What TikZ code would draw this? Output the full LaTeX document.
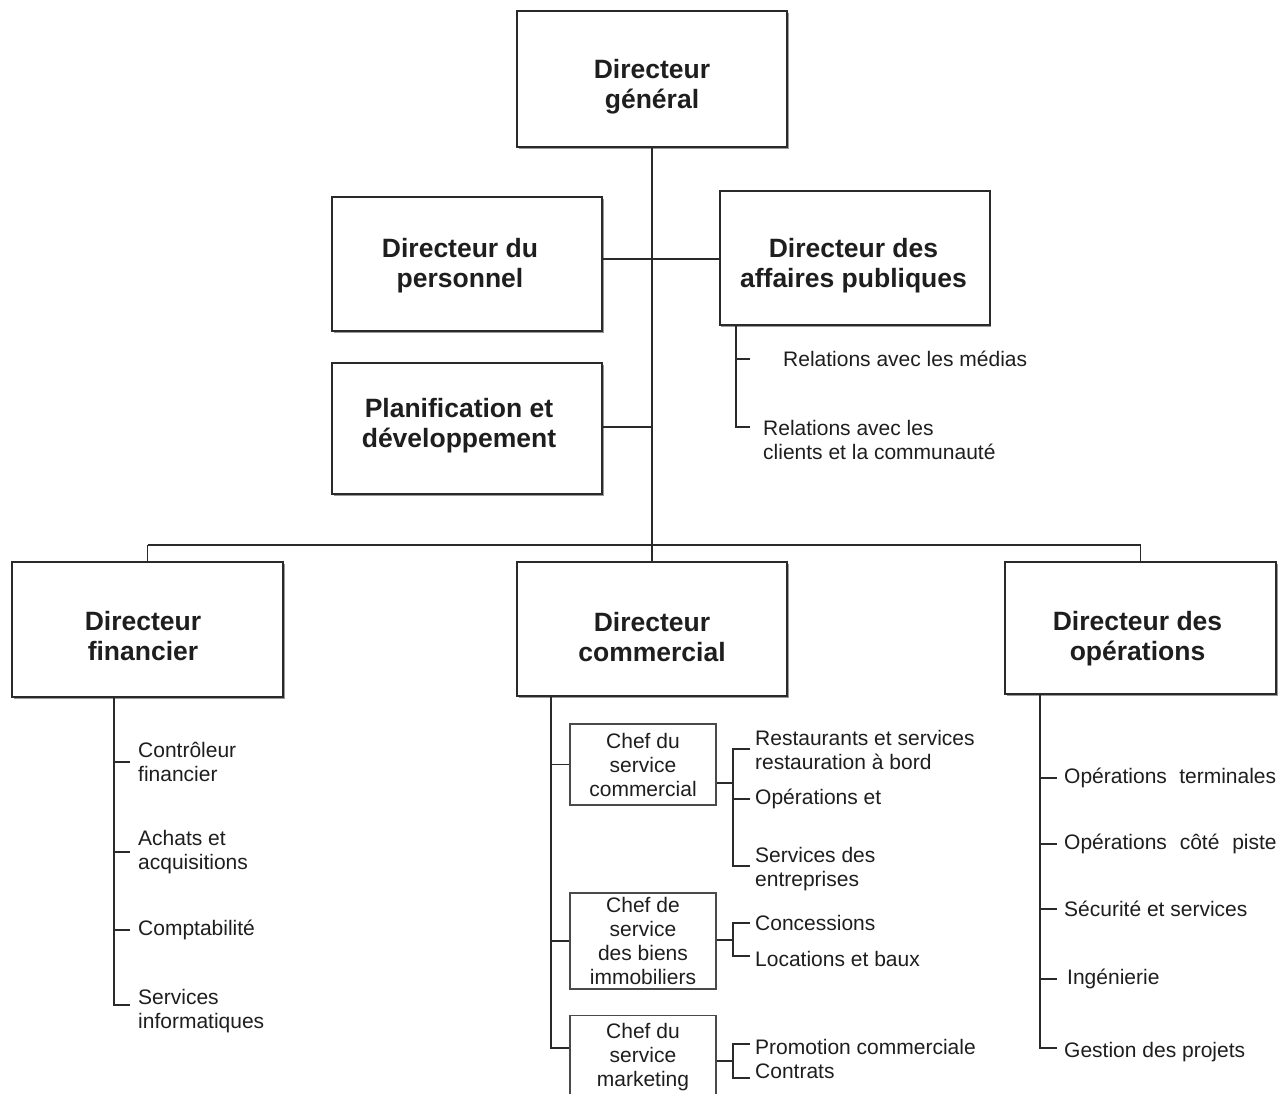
\documentclass[tikz,border=0pt]{standalone}
\usepackage{fontspec}
\setmainfont{Liberation Sans}
\usetikzlibrary{shadows}
\definecolor{ink}{HTML}{1E1E1E}
\definecolor{linec}{HTML}{2A2A2A}
\tikzset{
  bigbox/.style={draw=linec, line width=2pt, fill=white, minimum width=270pt, minimum height=134pt,
    inner sep=0pt,
    drop shadow={shadow xshift=1.6pt, shadow yshift=-1.6pt, fill=gray, opacity=0.8}},
  bigtext/.style={align=center, font=\fontsize{26.5}{30}\selectfont\bfseries, text=ink, inner sep=0pt},
  chefbox/.style={draw=linec!85, line width=1.3pt, minimum width=146pt, align=center,
    font=\fontsize{21}{24}\selectfont, text=ink, inner sep=0pt},
  cheftext/.style={align=center, font=\fontsize{21}{24}\selectfont, text=ink, inner sep=0pt},
  lbl/.style={anchor=west, align=left, inner sep=0pt, font=\fontsize{21}{24}\selectfont, text=ink},
  conn/.style={draw=linec, line width=1.3pt},
}
\begin{document}
\begin{tikzpicture}[x=1pt,y=-1pt]
\useasboundingbox (0,0) rectangle (1279,1093);
\clip (0,0) rectangle (1279,1093);
\fill[white] (0,0) rectangle (1279,1093);

% main boxes
\node[bigbox, minimum height=136pt] (dg) at (652,79) {};
\node[bigtext] (dgt) at ([shift={(0,8)}]dg.center) {Directeur\\général};
\node[bigbox] (dp) at (467,264) {};
\node[bigtext] (dpt) at ([shift={(-7,1.5)}]dp.center) {Directeur du\\personnel};
\node[bigbox] (dap) at (854.5,258) {};
\node[bigtext] (dapt) at ([shift={(-1,8)}]dap.center) {Directeur des\\affaires publiques};
\node[bigbox, minimum height=131pt] (pd) at (467,428.5) {};
\node[bigtext] (pdt) at ([shift={(-8,-2.5)}]pd.center) {Planification et\\développement};
\node[bigbox, minimum height=135pt, minimum width=271pt] (df) at (147.5,629.5) {};
\node[bigtext] (dft) at ([shift={(-4.5,6.5)}]df.center) {Directeur\\financier};
\node[bigbox] (dc) at (652,629) {};
\node[bigtext] (dct) at ([shift={(0,8)}]dc.center) {Directeur\\commercial};
\node[bigbox, minimum height=132pt, minimum width=271pt] (dop) at (1140.5,628) {};
\node[bigtext] (dopt) at ([shift={(-3,11)}]dop.center) {Directeur des\\opérations};

% top level connectors
\coordinate (jP) at (652,259);
\coordinate (jD) at (652,427);
\coordinate (bus) at (652,545);
\coordinate (busL) at (147.5,545);
\coordinate (busR) at (1140.5,545);
\draw[conn] (dg.south) -- (bus);
\draw[conn] (dp.east |- jP) -- (dap.west |- jP);
\draw[conn] (pd.east |- jD) -- (jD);
\draw[conn] (busL) -- (busR);
\draw[conn] (busL) -- (df.north);
\draw[conn] (bus) -- (dc.north);
\draw[conn] (busR) -- (dop.north);

% affaires publiques
\node[lbl] (rm) at (783,359) {Relations avec les médias};
\node[lbl] (rc) at (763,440) {Relations avec les\\clients et la communauté};
\coordinate (ap1) at (736,359);
\coordinate (ap2) at (736,427);
\draw[conn, shorten >=13pt] (dap.south -| ap2) -- (ap2) -- (ap2 -| rc.west);
\draw[conn, shorten >=33pt] (ap1) -- (rm.west);

% financier
\node[lbl] (fc) at (138,762) {Contrôleur\\financier};
\node[lbl] (fa) at (138,852) {Achats et\\acquisitions};
\node[lbl] (fco) at (138,930) {Comptabilité};
\node[lbl] (fs) at (138,1011) {Services\\informatiques};
\coordinate (f4) at (114,1005);
\draw[conn, shorten >=8pt] (df.south -| f4) -- (f4) -- (f4 -| fs.west);
\draw[conn, shorten >=8pt] (fc.west -| f4) -- (fc.west);
\draw[conn, shorten >=8pt] (fa.west -| f4) -- (fa.west);
\draw[conn, shorten >=8pt] (fco.west -| f4) -- (fco.west);

% commercial
\node[chefbox, minimum height=81pt] (cc) at (643,764.5) {Chef du\\service\\commercial};
\node[chefbox, minimum height=96pt] (cb) at (643,941) {Chef de\\service\\des biens\\immobiliers};
\node[chefbox, minimum height=110pt, anchor=north] (cm) at (643,1015) {};
\node[cheftext] (cmt) at (643,1057) {Chef du\\service\\marketing};
\coordinate (c3) at (551,1048);
\draw[conn] (dc.south -| c3) -- (c3) -- (c3 -| cm.west);
\draw[conn] (cc.west -| c3) -- (cc.west);
\draw[conn] (cb.west -| c3) -- (cb.west);

\node[lbl] (r1) at (755,750) {Restaurants et services\\restauration à bord};
\node[lbl] (r2) at (755,799) {Opérations et};
\node[lbl] (r3) at (755,869) {Services des\\entreprises};
\coordinate (k1) at (733,783);
\coordinate (kt) at (733,749);
\coordinate (kb) at (733,866);
\draw[conn] (cc.east |- k1) -- (k1);
\draw[conn, shorten <=5pt, shorten >=5pt] (kt -| r1.west) -- (kt) -- (kb) -- (kb -| r3.west);
\draw[conn, shorten >=5pt] (r2.west -| kt) -- (r2.west);

\node[lbl] (con) at (755,923) {Concessions};
\node[lbl] (loc) at (755,959) {Locations et baux};
\coordinate (k2) at (733,940);
\coordinate (bt) at (733,923);
\coordinate (bb) at (733,956);
\draw[conn] (cb.east |- k2) -- (k2);
\draw[conn, shorten <=5pt, shorten >=5pt] (bt -| con.west) -- (bt) -- (bb) -- (bb -| loc.west);

\node[lbl] (pro) at (755,1047) {Promotion commerciale};
\node[lbl] (ctr) at (755,1071) {Contrats};
\coordinate (k3) at (733,1061);
\coordinate (mt) at (733,1044);
\coordinate (mb) at (733,1078);
\draw[conn] (cm.east |- k3) -- (k3);
\draw[conn, shorten <=5pt, shorten >=5pt] (mt -| pro.west) -- (mt) -- (mb) -- (mb -| ctr.west);

% operations
\node[lbl] (ot) at (1064,778) {Opérations\hspace{6.5pt} terminales};
\node[lbl] (oc) at (1064,844) {Opérations\hspace{7pt} côté\hspace{7pt} piste};
\node[lbl] (os) at (1064,909) {Sécurité et services};
\node[lbl] (oi) at (1067,979) {Ingénierie};
\node[lbl] (og) at (1064,1052) {Gestion des projets};
\coordinate (ob) at (1040,1048);
\draw[conn, shorten >=7pt] (dop.south -| ob) -- (ob) -- (ob -| og.west);
\draw[conn, shorten >=7pt] (ot.west -| ob) -- (ot.west);
\draw[conn, shorten >=7pt] (oc.west -| ob) -- (oc.west);
\draw[conn, shorten >=7pt] (os.west -| ob) -- (os.west);
\draw[conn, shorten >=10pt] (oi.west -| ob) -- (oi.west);
\end{tikzpicture}
\end{document}
